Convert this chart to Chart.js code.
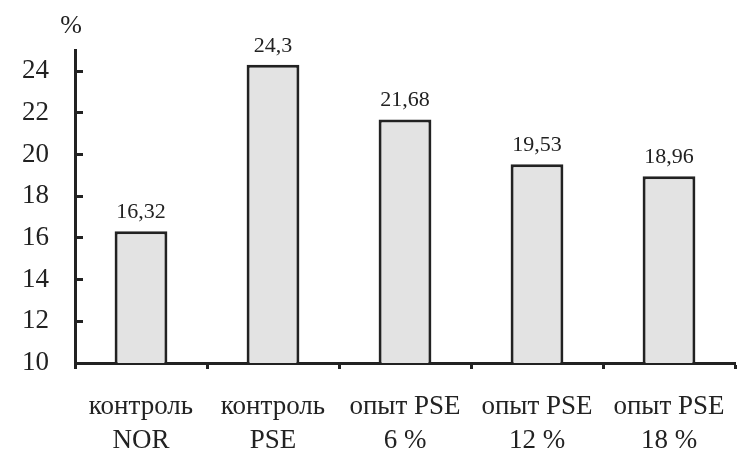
<!DOCTYPE html>
<html>
<head>
<meta charset="utf-8">
<script src="https://cdn.jsdelivr.net/npm/chart.js@4"></script>
<style>
  html, body { margin: 0; padding: 0; background: #fff; }
  #wrap { width: 756px; height: 475px; }
</style>
</head>
<body>
<div id="wrap"><canvas id="chart" width="756" height="475"></canvas></div>
<script>
// данные с графика
const categories = [
    ['контроль', 'NOR'],
    ['контроль', 'PSE'],
    ['опыт PSE', '6 %'],
    ['опыт PSE', '12 %'],
    ['опыт PSE', '18 %']
];
const values = [16.32, 24.3, 21.68, 19.53, 18.96];
const yMin = 10;
const yMax = 25;
const yStep = 2;

const ink = '#222';
const serif = '"Liberation Serif", "DejaVu Serif", serif';

// подписи значений над столбиками и знак % над осью
const labelsPlugin = {
    id: 'valueLabels',
    afterDatasetsDraw(chart) {
        const ctx = chart.ctx;
        const meta = chart.getDatasetMeta(0);
        ctx.save();
        ctx.fillStyle = ink;
        ctx.font = '22px ' + serif;
        ctx.textAlign = 'center';
        ctx.textBaseline = 'alphabetic';
        meta.data.forEach((bar, i) => {
            const txt = String(values[i]).replace('.', ',');
            ctx.fillText(txt, bar.x, bar.y - 13);
        });
        ctx.font = '26px ' + serif;
        ctx.fillText('%', chart.chartArea.left - 4, 33);
        ctx.restore();
    }
};

new Chart(document.getElementById('chart'), {
    type: 'bar',
    data: {
        labels: categories,
        datasets: [{
            data: values,
            backgroundColor: '#e3e3e3',
            borderColor: ink,
            borderWidth: 3,
            barPercentage: 0.4,
            categoryPercentage: 1
        }]
    },
    options: {
        responsive: false,
        animation: false,
        layout: { padding: { top: 47, right: 21, left: 0, bottom: 0 } },
        plugins: {
            legend: { display: false },
            tooltip: { enabled: false }
        },
        scales: {
            x: {
                grid: {
                    display: true,
                    drawOnChartArea: false,
                    tickLength: 6,
                    tickWidth: 3,
                    tickColor: ink,
                    offset: true
                },
                border: { color: ink, width: 3 },
                ticks: {
                    color: ink,
                    font: { family: serif, size: 27, lineHeight: 1.26 },
                    padding: 21,
                    maxRotation: 0,
                    autoSkip: false
                },
                afterFit(scale) { scale.height = 112; }
            },
            y: {
                min: yMin,
                max: yMax,
                grid: {
                    display: true,
                    drawOnChartArea: false,
                    tickLength: -8,
                    tickWidth: 3,
                    tickColor: ink
                },
                border: { color: ink, width: 3 },
                ticks: {
                    stepSize: yStep,
                    includeBounds: false,
                    color: ink,
                    font: { family: serif, size: 27 },
                    padding: 34
                },
                afterFit(scale) { scale.width = 75; }
            }
        }
    },
    plugins: [labelsPlugin]
});
</script>
</body>
</html>
